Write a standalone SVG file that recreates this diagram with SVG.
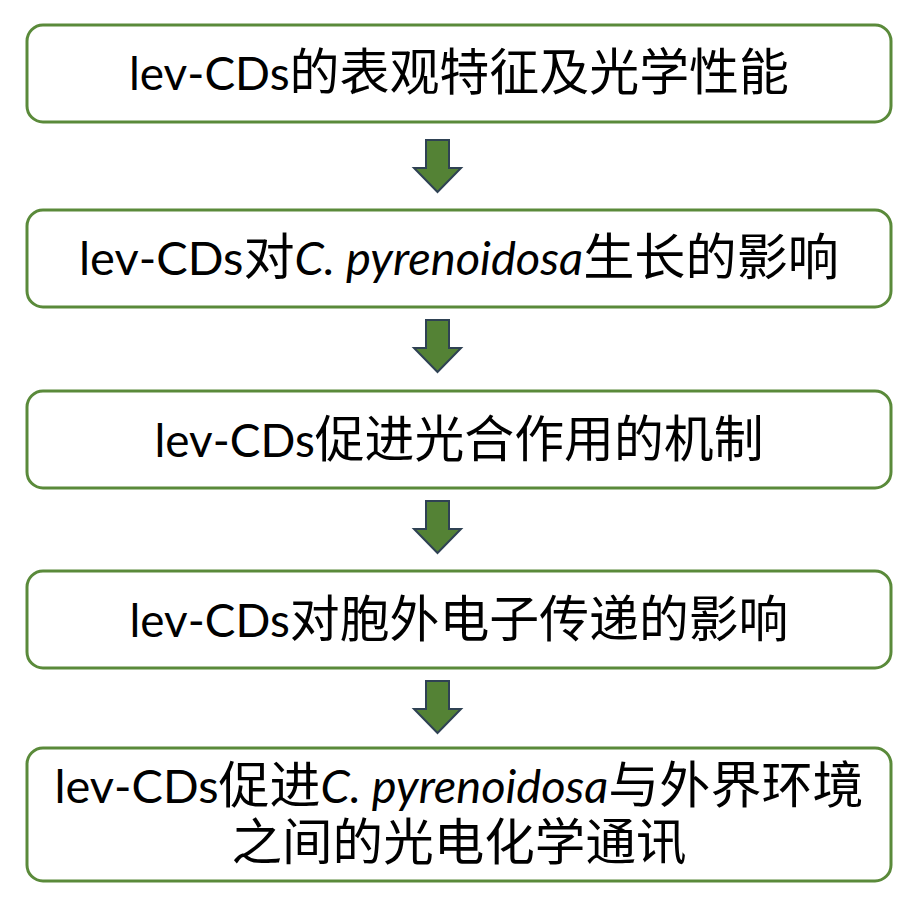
<svg xmlns="http://www.w3.org/2000/svg" width="919" height="905" viewBox="0 0 919 905">
<style>
.box{fill:#ffffff;stroke:#5a8a3a;stroke-width:3}
.arr{fill:#548235;stroke:#2f4254;stroke-width:2;stroke-linejoin:miter}
.t{font-family:"Noto Sans CJK SC","Noto Sans",sans-serif;font-size:50px;fill:#000;text-anchor:middle}
.l{font-family:Lato,"Liberation Sans","Noto Sans CJK SC",sans-serif;font-size:46px}
.i{font-style:italic}
</style>
<defs>
<path id="arrow" d="M426,0 H449 V28 H461 L437.5,52 L414,28 H426 Z"/>
</defs>
<rect width="919" height="905" fill="#ffffff"/>
<g id="connectors">
<use href="#arrow" class="arr" y="140"/>
<use href="#arrow" class="arr" y="320"/>
<use href="#arrow" class="arr" y="501"/>
<use href="#arrow" class="arr" y="681"/>
</g>
<g id="node1">
<rect class="box" x="27" y="25" width="864" height="97" rx="16"/>
<text class="t" x="459" y="90" textLength="660" lengthAdjust="spacingAndGlyphs"><tspan class="l">lev-CDs</tspan>的表观特征及光学性能</text>
</g>
<g id="node2">
<rect class="box" x="27" y="210" width="864" height="97" rx="16"/>
<text class="t" x="459" y="275" textLength="760" lengthAdjust="spacingAndGlyphs"><tspan class="l">lev-CDs</tspan>对<tspan class="l i">C. pyrenoidosa</tspan>生长的影响</text>
</g>
<g id="node3">
<rect class="box" x="27" y="391" width="864" height="97" rx="16"/>
<text class="t" x="459" y="457" textLength="609" lengthAdjust="spacingAndGlyphs"><tspan class="l">lev-CDs</tspan>促进光合作用的机制</text>
</g>
<g id="node4">
<rect class="box" x="27" y="571" width="864" height="97" rx="16"/>
<text class="t" x="459" y="637" textLength="659" lengthAdjust="spacingAndGlyphs"><tspan class="l">lev-CDs</tspan>对胞外电子传递的影响</text>
</g>
<g id="node5">
<rect class="box" x="27" y="748" width="864" height="133" rx="16"/>
<text class="t" x="459" y="803" textLength="809" lengthAdjust="spacingAndGlyphs"><tspan class="l">lev-CDs</tspan>促进<tspan class="l i">C. pyrenoidosa</tspan>与外界环境</text>
<text class="t" x="459" y="860" textLength="455" lengthAdjust="spacingAndGlyphs">之间的光电化学通讯</text>
</g>
</svg>
